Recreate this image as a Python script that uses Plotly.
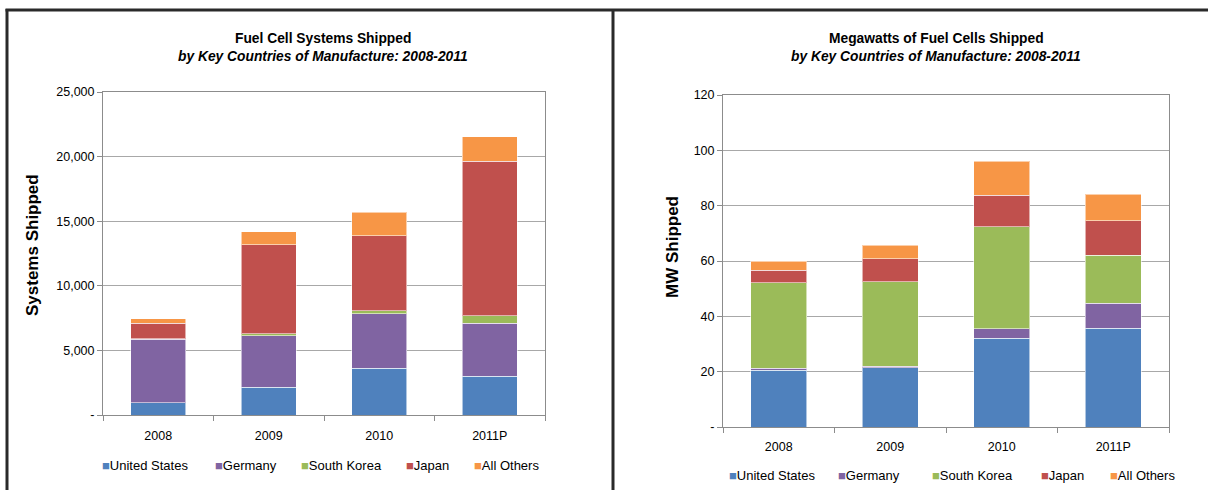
import plotly.graph_objects as go

# Categories and series
years = ["2008", "2009", "2010", "2011P"]
countries = ["United States", "Germany", "South Korea", "Japan", "All Others"]
colors = ["#4F81BD", "#8064A2", "#9BBB59", "#C0504D", "#F79646"]

# Fuel cell systems shipped (units)
systems_us = [950, 2150, 3630, 3000]
systems_germany = [4900, 3990, 4220, 4120]
systems_korea = [50, 130, 230, 570]
systems_japan = [1200, 6900, 5780, 11940]
systems_others = [350, 1000, 1820, 1920]

# Megawatts shipped
mw_us = [20.5, 21.5, 32.1, 35.7]
mw_germany = [0.8, 0.4, 3.4, 9.1]
mw_korea = [30.8, 30.6, 36.9, 17.2]
mw_japan = [4.6, 8.3, 11.4, 12.6]
mw_others = [3.2, 4.9, 12.2, 9.6]

systems_ticks = [0, 5000, 10000, 15000, 20000, 25000]
systems_ticktext = ["-", "5,000", "10,000", "15,000", "20,000", "25,000"]
mw_ticks = [0, 20, 40, 60, 80, 100, 120]
mw_ticktext = ["-", "20", "40", "60", "80", "100", "120"]

W, H = 1208, 490
FONT = "Liberation Sans, Arial, sans-serif"


def px(x):
    return x / W


def py(y):
    return 1 - y / H


systems = [systems_us, systems_germany, systems_korea, systems_japan, systems_others]
mws = [mw_us, mw_germany, mw_korea, mw_japan, mw_others]

fig = go.Figure()

for name, color, vals in zip(countries, colors, systems):
    fig.add_trace(go.Bar(
        x=years, y=vals, name=name, xaxis="x", yaxis="y",
        marker=dict(color=color, line=dict(color="rgba(255,255,255,0.55)", width=1)),
        showlegend=False,
    ))

for name, color, vals in zip(countries, colors, mws):
    fig.add_trace(go.Bar(
        x=years, y=vals, name=name, xaxis="x2", yaxis="y2",
        marker=dict(color=color, line=dict(color="rgba(255,255,255,0.55)", width=1)),
        showlegend=False,
    ))

grid = "#A8A8A8"
axis_line = "#8C8C8C"

xcommon = dict(
    type="category", categoryorder="array", categoryarray=years,
    showline=True, linecolor=axis_line, linewidth=1, mirror=True,
    ticks="outside", tickson="boundaries", ticklen=5, tickcolor=axis_line,
    showgrid=False, tickfont=dict(family=FONT, size=12.5, color="#000"),
    automargin=False,
)
ycommon = dict(
    showline=True, linecolor=axis_line, linewidth=1, mirror=True,
    ticks="outside", ticklen=5, tickcolor=axis_line,
    showgrid=True, gridcolor=grid, gridwidth=1, zeroline=False,
    tickfont=dict(family=FONT, size=12.5, color="#000"),
    tickmode="array", automargin=False,
)

fig.update_layout(
    width=W, height=H,
    margin=dict(l=0, r=0, t=0, b=0, pad=0),
    paper_bgcolor="white", plot_bgcolor="white",
    barmode="stack", bargap=0.5,
    showlegend=False,
    font=dict(family=FONT, size=12, color="#000"),
    xaxis=dict(domain=[px(103), px(545)], anchor="y", ticklabelstandoff=9, **xcommon),
    yaxis=dict(domain=[py(415), py(92)], anchor="x", range=[0, 25000],
               tickvals=systems_ticks, ticktext=systems_ticktext, **ycommon),
    xaxis2=dict(domain=[px(723), px(1169)], anchor="y2", ticklabelstandoff=8, **xcommon),
    yaxis2=dict(domain=[py(427), py(95)], anchor="x2", range=[0, 120],
                tickvals=mw_ticks, ticktext=mw_ticktext, **ycommon),
)

# Panel titles
titles = [
    (323, "Fuel Cell Systems Shipped", "by Key Countries of Manufacture: 2008-2011"),
    (936, "Megawatts of Fuel Cells Shipped", "by Key Countries of Manufacture: 2008-2011"),
]
for cx, main, sub in titles:
    fig.add_annotation(x=px(cx), y=py(38), xref="paper", yref="paper", showarrow=False,
                       text=f"<b>{main}</b>", xanchor="center", yanchor="middle",
                       font=dict(family=FONT, size=13.8, color="#000"))
    fig.add_annotation(x=px(cx), y=py(56), xref="paper", yref="paper", showarrow=False,
                       text=f"<b><i>{sub}</i></b>", xanchor="center", yanchor="middle",
                       font=dict(family=FONT, size=13.8, color="#000"))

# Axis titles
for cx, cy, label in [(32, 245, "Systems Shipped"), (672, 247, "MW Shipped")]:
    fig.add_annotation(x=px(cx), y=py(cy), xref="paper", yref="paper", showarrow=False,
                       text=f"<b>{label}</b>", textangle=-90,
                       xanchor="center", yanchor="middle",
                       font=dict(family=FONT, size=17, color="#000"))

# Legends: colour swatch followed by the series name
legend_rows = [
    (465, [100, 213, 299, 404, 472]),
    (475, [727, 836, 930, 1039, 1108]),
]
for ly, xs in legend_rows:
    for x0, name, color in zip(xs, countries, colors):
        fig.add_annotation(
            x=px(x0), y=py(ly), xref="paper", yref="paper", showarrow=False,
            xanchor="left", yanchor="middle",
            text=f'<span style="color:{color}">■</span>{name}',
            font=dict(family=FONT, size=13, color="#000"),
        )

# Panel frame lines
frame = "#2A2A2A"
fig.add_shape(type="line", xref="paper", yref="paper", x0=px(5.5), x1=1, y0=py(10), y1=py(10),
              line=dict(color=frame, width=3))
fig.add_shape(type="line", xref="paper", yref="paper", x0=px(7), x1=px(7), y0=py(9), y1=0,
              line=dict(color=frame, width=3))
fig.add_shape(type="line", xref="paper", yref="paper", x0=px(613), x1=px(613), y0=py(9), y1=0,
              line=dict(color=frame, width=3))

fig.write_html("out.html")
